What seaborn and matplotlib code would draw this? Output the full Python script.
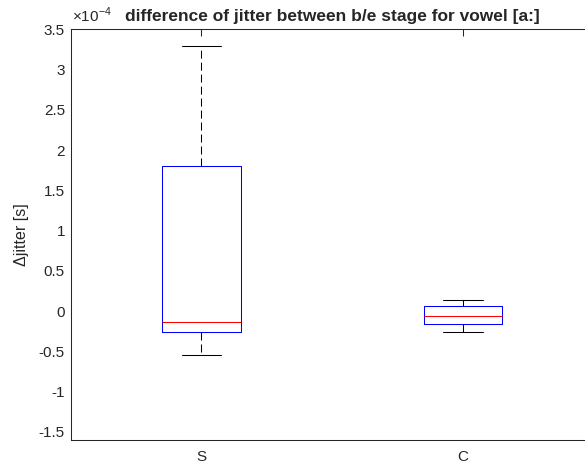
import numpy as np
import pandas as pd
import matplotlib
matplotlib.use("Agg")
import matplotlib.pyplot as plt
import seaborn as sns
from matplotlib.ticker import FuncFormatter, FixedLocator

# Data (units of 1e-4 s): five-number summaries
groups = ["S", "C"]
s_values = [-0.541, -0.264, -0.135, 1.804, 3.289]
c_values = [-0.259, -0.156, -0.057, 0.067, 0.133]
yticks = [-1.5, -1, -0.5, 0, 0.5, 1, 1.5, 2, 2.5, 3, 3.5]

df = pd.DataFrame({
    "group": ["S"] * len(s_values) + ["C"] * len(c_values),
    "value": s_values + c_values,
})

sns.set_theme(style="white")
plt.rcParams["font.family"] = ["Liberation Sans", "DejaVu Sans"]
plt.rcParams["axes.unicode_minus"] = False

fig = plt.figure(figsize=(5.85, 4.65), dpi=100)
W, H = 585, 465
left, right, top, bottom = 70.5, 594, 29.3, 440
ax = fig.add_axes([left / W, (H - bottom) / H, (right - left) / W, (bottom - top) / H])

dash = (0, (7.7, 3.8))
sns.boxplot(
    data=df, x="group", y="value", order=groups, ax=ax,
    width=0.3, fill=False, whis=np.inf, linewidth=0.75,
    boxprops=dict(color="blue", linewidth=0.75),
    medianprops=dict(color="red", linewidth=0.75),
    whiskerprops=dict(color="black", linestyle=dash, linewidth=0.75),
    capprops=dict(color="black", linewidth=0.75),
    showfliers=False,
)

ax.set_xlim(-0.5, 1.5)
ax.set_ylim(-1.6, 3.5)
ax.yaxis.set_major_locator(FixedLocator(yticks))
ax.yaxis.set_major_formatter(FuncFormatter(lambda v, p: "%g" % v))

gray = (0.15, 0.15, 0.15)
for sp in ax.spines.values():
    sp.set_visible(True)
    sp.set_color(gray)
    sp.set_linewidth(0.75)
ax.tick_params(axis="both", which="major", direction="in", length=5, width=0.75,
               colors=gray, labelsize=11, top=True, right=True,
               labelcolor=gray)
ax.tick_params(axis="y", pad=4)
ax.tick_params(axis="x", pad=7)

ax.set_xlabel("")
ax.set_ylabel("\u0394jitter [s]", fontsize=11.5, color=gray, labelpad=7)
ax.set_title("difference of jitter between b/e stage for vowel [a:]",
             fontsize=12.5, fontweight="bold", pad=6)
ax.text(0.002, 1.01, "\u00d710$^{\\mathregular{-4}}$", transform=ax.transAxes,
        fontsize=11, color=gray, ha="left", va="bottom")

fig.savefig("out.png", dpi=100)
